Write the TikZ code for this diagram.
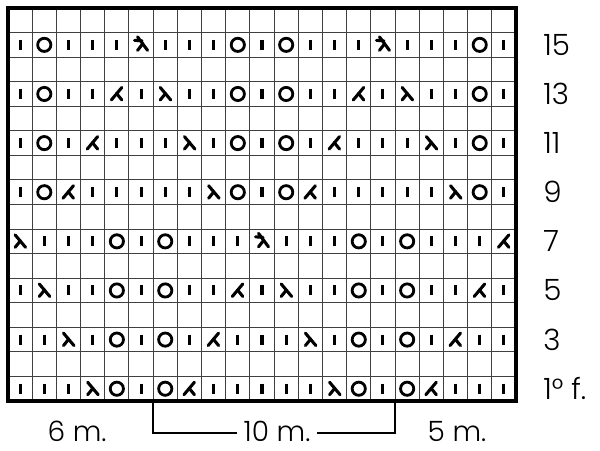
\documentclass[tikz,border=0pt]{standalone}
\usepackage{fontspec}
\setmainfont{Poppins}[UprightFont=* Light]
\tikzset{
  sym/.style={line width=2.3pt, line cap=butt, black},
  symc/.style={line width=2.1pt, black},
  gridline/.style={line width=0.8pt, draw=black!75},
  frameline/.style={line width=2.4pt, draw=black},
  lbl/.style={font=\fontsize{22}{22}\selectfont, inner sep=0pt, anchor=west},
  dim/.style={font=\fontsize{21}{21}\selectfont, inner sep=0pt, anchor=base},
  bracket/.style={line width=1pt, draw=black},
  stk/.pic={\draw[sym] (0,-5) -- (0,5);},
  sto/.pic={\draw[symc] (0,0) circle (6.6);},
  str/.pic={\draw[sym,line cap=round] (-5,-6.5) -- (5.5,6); \draw[sym,line cap=round] (0.3,-0.5) -- (-5,6);},
  stl/.pic={\draw[sym,line cap=round] (5,-6.5) -- (-5.5,6); \draw[sym,line cap=round] (-0.3,-0.5) -- (5,6);},
  std/.pic={\draw[sym,line cap=round] (-3.5,-8) -- (6.5,5.5); \draw[sym,line cap=round] (1.8,-1.2) -- (-3.5,5.5); \draw[sym,line cap=round] (-6.5,-4.5) -- (1,-4);},
}
\newcommand\chartrow[2]{%
  \foreach \s [count=\c] in {#2} {\pic at ({8+(\c-0.5)*24.1905},{8+(#1+0.5)*24.5625}) {st\s};}}
\begin{document}
\begin{tikzpicture}[x=0.75pt,y=-0.75pt]
\useasboundingbox (0,0) rectangle (600,450);
\fill[white] (0,0) rectangle (600,450);
% grid
\foreach \i in {1,...,20} {\draw[gridline] ({8+\i*24.1905},8) -- ({8+\i*24.1905},401);}
\foreach \j in {1,...,15} {\draw[gridline] (8,{8+\j*24.5625}) -- (516,{8+\j*24.5625});}
\draw[frameline] (8,8) rectangle (516,401);
% rows
\chartrow{1}{k,o,k,k,k,d,k,k,k,o,k,o,k,k,k,d,k,k,k,o,k}
\chartrow{3}{k,o,k,k,l,k,r,k,k,o,k,o,k,k,l,k,r,k,k,o,k}
\chartrow{5}{k,o,k,l,k,k,k,r,k,o,k,o,k,l,k,k,k,r,k,o,k}
\chartrow{7}{k,o,l,k,k,k,k,k,r,o,k,o,l,k,k,k,k,k,r,o,k}
\chartrow{9}{r,k,k,k,o,k,o,k,k,k,d,k,k,k,o,k,o,k,k,k,l}
\chartrow{11}{k,r,k,k,o,k,o,k,k,l,k,r,k,k,o,k,o,k,k,l,k}
\chartrow{13}{k,k,r,k,o,k,o,k,l,k,k,k,r,k,o,k,o,k,l,k,k}
\chartrow{15}{k,k,k,r,o,k,o,l,k,k,k,k,k,r,o,k,o,l,k,k,k}
% row labels
\node[lbl] (r15) at (543,{8+1.5*24.5625}) {15};
\node[lbl] (r13) at (543,{8+3.5*24.5625}) {13};
\node[lbl] (r11) at (543,{8+5.5*24.5625}) {11};
\node[lbl] (r9) at (543,{8+7.5*24.5625}) {9};
\node[lbl] (r7) at (543,{8+9.5*24.5625}) {7};
\node[lbl] (r5) at (543,{8+11.5*24.5625}) {5};
\node[lbl] (r3) at (543,{8+13.5*24.5625}) {3};
\node[lbl] (r1) at (543,{8+15.5*24.5625}) {1° f.};
% bottom dimensions
\node[dim] (six) at (77,441) {6 m.};
\node[dim] (ten) at (277,441) {10 m.};
\node[dim] (five) at (457,441) {5 m.};
\coordinate (bl) at ({8+6*24.1905},401);
\coordinate (br) at ({8+16*24.1905},401);
\coordinate (hl) at (0,433);
\draw[bracket] (bl) -- (bl |- hl) -- ([xshift=-5pt]ten.west |- hl);
\draw[bracket] ([xshift=5pt]ten.east |- hl) -- (br |- hl) -- (br);
\end{tikzpicture}
\end{document}
